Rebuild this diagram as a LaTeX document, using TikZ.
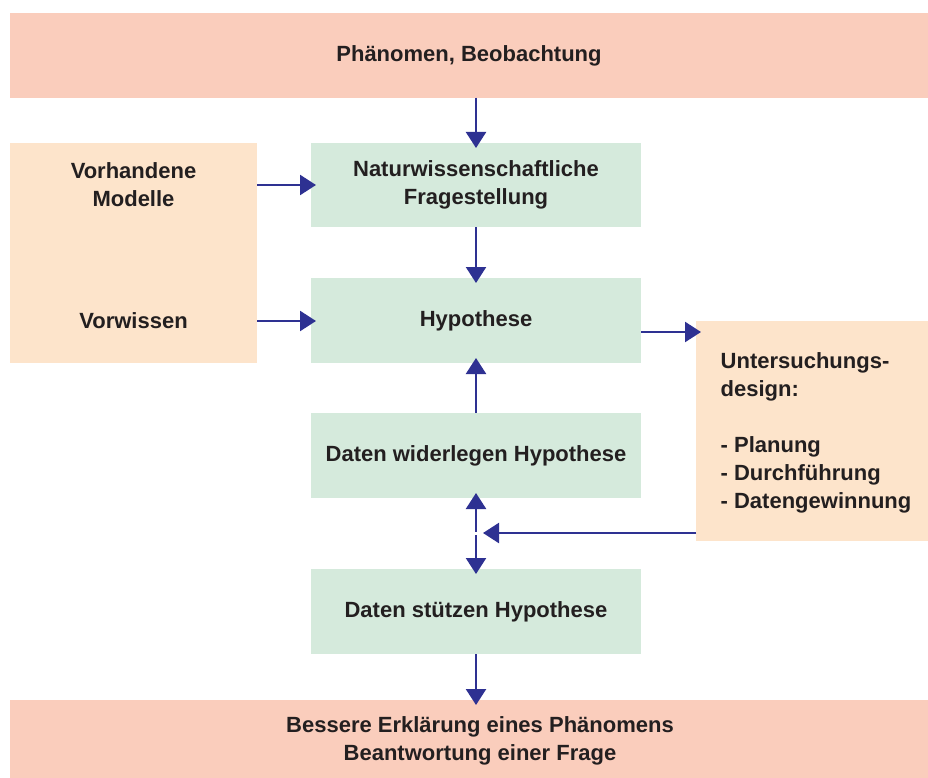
\documentclass[tikz,border=0pt]{standalone}
\usepackage{fontspec}
\setmainfont{Liberation Sans}
\usetikzlibrary{arrows.meta}
\definecolor{salmon}{HTML}{FACDBC}
\definecolor{peach}{HTML}{FDE4CB}
\definecolor{mint}{HTML}{D5EADC}
\definecolor{navy}{HTML}{2E3192}
\definecolor{txt}{HTML}{231F20}
\begin{document}
\begin{tikzpicture}[x=1pt,y=-1pt,
  font=\bfseries\fontsize{22}{28}\selectfont,
  every node/.style={text=txt},
  box/.style={draw=none, inner sep=0pt, outer sep=0pt, anchor=north west, align=center},
  arr/.style={draw=navy, line width=2.4pt, shorten >=-5pt, -{Triangle[length=16pt,width=20pt]}, fill=navy}]
\useasboundingbox (0,0) rectangle (928,778);
% boxes
\node[box, fill=salmon, minimum width=918pt, minimum height=85pt] (phen) at (10,13) {Phänomen, Beobachtung};
\node[box, fill=peach, minimum width=247pt, minimum height=220pt] (lbox) at (10,143) {};
\node[align=center] (vm) at (133.5,185) {Vorhandene\\Modelle};
\node (vw) at (133.5,321) {Vorwissen};
\node[box, fill=mint, minimum width=330pt, minimum height=84pt] (frage) at (311,143) {Naturwissenschaftliche\\Fragestellung};
\node[box, fill=mint, minimum width=330pt, minimum height=85pt] (hyp) at (311,278) {Hypothese};
\node[box, fill=mint, minimum width=330pt, minimum height=85pt] (wid) at (311,413) {Daten widerlegen Hypothese};
\node[box, fill=mint, minimum width=330pt, minimum height=85pt] (stu) at (311,569) {Daten stützen Hypothese};
\node[box, fill=peach, minimum width=232pt, minimum height=220pt] (rbox) at (696,321) {};
\node[align=left] (design) at (816,433) {Untersuchungs-\\design:\\[28pt]- Planung\\- Durchführung\\- Datengewinnung};
\node[box, fill=salmon, minimum width=918pt, minimum height=78pt] (erk) at (10,700) {};
\node[align=center] (erktext) at (480,741) {Bessere Erklärung eines Phänomens\\Beantwortung einer Frage};
% connectors
\coordinate (mid) at (476,533);
\draw[arr] (frage.north |- phen.south) -- (frage.north);
\draw[arr] (frage.south) -- (hyp.north);
\draw[arr] (wid.north) -- (hyp.south);
\draw[arr] (vm -| lbox.east) -- (vm -| frage.west);
\draw[arr] (vw -| lbox.east) -- (vw -| hyp.west);
\draw[arr] ([yshift=-11.5pt]hyp.east) -- ([yshift=-11.5pt]hyp.east -| rbox.west);
\draw[arr] ([yshift=1.5pt]mid) -- (wid.south);
\draw[arr] ([yshift=-2pt]mid) -- (stu.north);
\draw[arr, shorten >=0pt] (mid -| rbox.west) -- ([xshift=7pt]mid);
\draw[arr] (stu.south) -- (stu.south |- erk.north);
\end{tikzpicture}
\end{document}
